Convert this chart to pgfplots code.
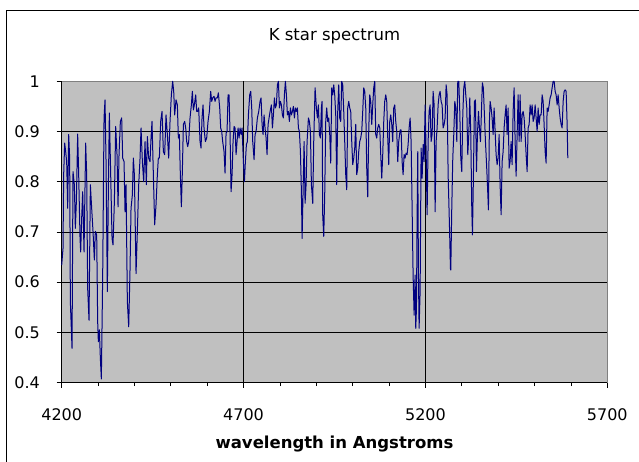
\documentclass[border=0pt]{standalone}
\usepackage{fontspec}
\setmainfont{DejaVu Sans}
\usepackage{pgfplots}
\pgfplotsset{compat=1.18}
\definecolor{plotgray}{RGB}{192,192,192}
\definecolor{bordergray}{RGB}{128,128,128}
\definecolor{navyline}{RGB}{0,0,128}
\begin{document}
\begin{tikzpicture}
\useasboundingbox (0,0) rectangle (639bp,462bp);
\draw[black, line width=1bp] (6bp,-5bp) -- (6bp,451.8bp) -- (700bp,451.8bp);
\begin{axis}[
  at={(61.7bp,79.5bp)}, anchor=south west,
  scale only axis, width=545.6bp, height=301.2bp,
  xmin=4200, xmax=5700, ymin=0.4, ymax=1,
  axis x line*=bottom, axis y line*=left,
  axis line style={black, line width=0.8bp},
  axis background/.style={fill=plotgray, draw=bordergray, line width=0.8bp},
  xtick={4200,4700,5200,5700}, minor x tick num=4,
  ytick={0.4,0.5,0.6,0.7,0.8,0.9,1},
  tick align=outside, major tick length=5bp, minor tick length=3.5bp,
  tick style={black, line width=0.8bp},
  scaled x ticks=false, scaled y ticks=false,
  /pgf/number format/assume math mode=true,
  xticklabel style={/pgf/number format/1000 sep={}, font=\fontsize{16bp}{19bp}\selectfont, anchor=base, inner sep=0pt, yshift=-33bp},
  yticklabel style={/pgf/number format/fixed, /pgf/number format/precision=1, font=\fontsize{16bp}{19bp}\selectfont, anchor=east, inner sep=0pt, xshift=-16.7bp},
  title={K star spectrum},
  title style={at={(axis description cs:0.5,1.1145)}, anchor=base, yshift=0pt, inner sep=0pt, font=\fontsize{16.5bp}{20bp}\selectfont},
  xlabel={wavelength in Angstroms},
  xlabel style={at={(axis description cs:0.5,-0.2175)}, anchor=base, inner sep=0pt, font=\fontsize{16.5bp}{20bp}\selectfont\bfseries},
  clip=false,
]
\draw[black, line width=0.8bp] (axis cs:4200,0.5) -- (axis cs:5700,0.5);
\draw[black, line width=0.8bp] (axis cs:4200,0.6) -- (axis cs:5700,0.6);
\draw[black, line width=0.8bp] (axis cs:4200,0.7) -- (axis cs:5700,0.7);
\draw[black, line width=0.8bp] (axis cs:4200,0.8) -- (axis cs:5700,0.8);
\draw[black, line width=0.8bp] (axis cs:4200,0.9) -- (axis cs:5700,0.9);
\draw[black, line width=0.8bp] (axis cs:4700,0.4) -- (axis cs:4700,1);
\draw[black, line width=0.8bp] (axis cs:5200,0.4) -- (axis cs:5200,1);
\addplot[navyline, line width=1bp, line join=round, mark=none] coordinates {
(4200,0.634)(4203.6,0.667)(4205.4,0.814)(4208.2,0.877)(4210.9,0.860)(4213.7,0.840)(4216.4,0.747)(4219.2,0.894)(4221.9,0.847)(4223.8,0.561)(4228.4,0.468)(4231.1,0.820)(4234.8,0.794)(4237.5,0.707)(4240.3,0.760)(4243.9,0.895)(4246.7,0.814)(4250.4,0.687)(4252.2,0.660)(4254.9,0.727)(4257.7,0.780)(4261.4,0.660)(4265.9,0.877)(4268.7,0.814)(4271.4,0.587)(4275.1,0.524)(4278.8,0.794)(4282.4,0.747)(4286.1,0.701)(4289.8,0.644)(4292.5,0.701)(4296.2,0.694)(4298.9,0.521)(4300.8,0.481)(4303.5,0.505)(4306.3,0.448)(4309.0,0.407)(4312.7,0.614)(4316.4,0.927)(4319.1,0.963)(4321.9,0.840)(4325.5,0.581)(4328.3,0.787)(4331.0,0.937)(4334.7,0.814)(4338.4,0.687)(4341.1,0.674)(4344.8,0.760)(4348.4,0.910)(4352.1,0.854)(4354.9,0.750)(4357.6,0.854)(4361.3,0.920)(4364.9,0.927)(4367.7,0.847)(4371.4,0.840)(4374.1,0.740)(4376.9,0.794)(4380.5,0.561)(4384.2,0.511)(4387.9,0.627)(4390.6,0.747)(4394.3,0.774)(4397.0,0.847)(4399.8,0.814)(4404.4,0.617)(4408.0,0.701)(4411.7,0.794)(4415.4,0.847)(4418.1,0.907)(4421.8,0.840)(4425.4,0.800)
(4429.1,0.880)(4432.7,0.794)(4435.5,0.890)(4439.1,0.847)(4442.8,0.840)(4445.6,0.887)(4448.3,0.920)(4452.0,0.814)(4455.6,0.714)(4459.3,0.754)(4463.0,0.814)(4465.7,0.847)(4468.5,0.847)(4472.1,0.920)(4475.8,0.940)(4479.5,0.860)(4483.1,0.854)(4486.8,0.933)(4490.5,0.894)(4494.1,0.847)(4497.8,0.920)(4501.5,0.973)(4505.1,1.000)(4507.9,0.980)(4510.6,0.933)(4514.3,0.963)(4518.0,0.953)(4520.7,0.887)(4523.5,0.894)(4526.2,0.814)(4529.0,0.750)(4531.7,0.820)(4534.5,0.914)(4538.1,0.920)(4540.9,0.907)(4543.6,0.880)(4546.4,0.870)(4549.1,0.880)(4552.8,0.927)(4556.5,0.953)(4559.2,0.980)(4562.0,0.943)(4564.7,0.953)(4568.4,0.973)(4571.1,0.940)(4573.9,0.940)(4576.6,0.947)(4580.3,0.880)(4583.1,0.867)(4585.8,0.927)(4588.6,0.953)(4591.3,0.907)(4595.0,0.880)(4598.6,0.887)(4602.3,0.920)(4606.0,0.940)(4609.6,0.980)(4612.4,0.960)(4615.1,0.967)(4618.8,0.970)(4621.6,0.960)(4624.3,0.967)(4628.0,0.967)(4630.7,0.977)(4634.4,0.947)(4637.1,0.907)(4639.9,0.900)(4642.6,0.880)(4646.3,0.860)(4649.1,0.817)
(4651.9,0.897)(4654.6,0.900)(4657.4,0.973)(4660.1,0.973)(4662.9,0.894)(4665.6,0.780)(4668.4,0.814)(4671.1,0.880)(4673.9,0.910)(4676.6,0.907)(4679.4,0.854)(4682.1,0.880)(4684.9,0.907)(4687.6,0.887)(4690.4,0.907)(4693.1,0.894)(4695.9,0.907)(4699.5,0.840)(4702.3,0.800)(4705.0,0.840)(4707.8,0.874)(4710.5,0.880)(4713.3,0.933)(4716.9,0.973)(4719.7,0.980)(4722.4,0.947)(4725.2,0.880)(4728.9,0.844)(4731.6,0.894)(4734.4,0.900)(4738.0,0.927)(4741.7,0.940)(4745.4,0.960)(4748.1,0.967)(4750.9,0.914)(4753.6,0.894)(4756.4,0.933)(4759.1,0.907)(4761.9,0.887)(4764.6,0.854)(4767.4,0.914)(4770.1,0.927)(4772.9,0.940)(4776.5,0.953)(4779.3,0.907)(4782.0,0.933)(4784.8,0.967)(4787.5,0.947)(4790.3,0.953)(4793.0,0.993)(4795.8,1.000)(4798.5,0.947)(4801.3,0.960)(4804.0,0.953)(4806.8,0.933)(4809.5,0.927)(4812.3,0.973)(4815.0,1.000)(4817.8,0.973)(4820.5,0.933)(4823.3,0.940)(4826.0,0.920)(4828.8,0.947)(4831.5,0.933)(4834.3,0.940)(4837.0,0.950)(4839.8,0.927)(4842.5,0.947)(4845.3,0.940)(4848.0,0.947)(4850.8,0.907)(4853.5,0.900)(4856.3,0.860)(4859.0,0.780)(4860.9,0.687)(4863.6,0.780)(4866.4,0.880)(4869.1,0.757)(4871.9,0.794)(4874.6,0.880)(4878.3,0.927)(4881.0,0.920)(4883.8,0.900)(4886.5,0.794)(4890.2,0.757)(4892.9,0.880)(4896.6,0.987)
(4900.2,0.947)(4903.0,0.927)(4905.7,0.953)(4908.5,0.894)(4911.2,0.887)(4914.0,0.947)(4915.8,0.960)(4917.6,0.734)(4920.4,0.691)(4923.1,0.774)(4925.9,0.920)(4928.6,0.947)(4931.4,0.920)(4934.1,0.927)(4936.9,0.894)(4939.6,0.837)(4942.4,0.987)(4945.1,0.973)(4947.9,0.993)(4950.6,0.973)(4953.4,0.933)(4956.1,0.794)(4958.9,0.940)(4961.6,0.993)(4964.4,0.927)(4967.1,0.920)(4969.9,1.000)(4972.6,0.993)(4975.4,0.940)(4978.1,0.880)(4980.9,0.814)(4983.6,0.784)(4986.4,0.947)(4989.1,0.960)(4991.9,0.947)(4994.6,0.940)(4997.4,0.880)(5000.1,0.834)(5002.9,0.847)(5005.6,0.867)(5008.4,0.914)(5011.1,0.814)(5013.9,0.827)(5016.6,0.860)(5019.4,0.880)(5022.1,0.887)(5024.9,0.900)(5027.6,0.940)(5030.4,0.987)(5033.1,0.980)(5035.9,0.947)(5038.6,0.827)(5041.4,0.770)(5044.1,0.900)(5046.9,0.973)(5049.6,0.960)(5052.4,0.914)(5055.1,0.953)(5057.9,0.987)(5060.6,1.000)(5063.4,0.894)(5066.1,0.887)(5068.9,0.907)(5071.6,0.914)(5074.4,0.907)(5077.1,0.854)(5079.9,0.807)(5082.6,0.854)(5085.4,0.920)(5088.1,0.960)(5090.9,0.973)(5093.6,0.960)(5096.4,0.887)(5099.1,0.834)(5101.9,0.920)(5104.6,0.933)(5107.4,0.914)(5110.1,0.880)(5112.9,0.947)(5115.6,0.953)(5118.4,0.920)(5121.1,0.900)(5123.9,0.840)(5126.6,0.880)
(5130.4,0.903)(5133.1,0.903)(5135.9,0.840)(5138.6,0.814)(5141.4,0.854)(5144.1,0.847)(5146.9,0.857)(5149.6,0.854)(5152.4,0.874)(5155.1,0.907)(5157.9,0.927)(5160.6,0.880)(5163.4,0.747)(5166.1,0.614)(5168.9,0.534)(5171.6,0.614)(5173.4,0.508)(5175.3,0.547)(5177.1,0.727)(5178.9,0.860)(5180.8,0.614)(5182.6,0.508)(5185.4,0.581)(5188.1,0.867)(5190.9,0.807)(5193.6,0.874)(5196.4,0.840)(5199.1,0.953)(5201.9,0.860)(5204.6,0.734)(5207.4,0.880)(5210.1,0.940)(5212.9,0.953)(5215.6,0.880)(5218.4,0.894)(5221.1,0.980)(5223.9,0.953)(5226.6,0.740)(5229.4,0.880)(5232.1,0.907)(5234.9,0.953)(5237.6,0.973)(5240.4,0.980)(5243.1,0.960)(5245.9,0.953)(5248.6,0.907)(5251.4,0.914)(5254.1,0.927)(5256.9,0.993)(5259.6,0.973)(5262.4,0.814)(5266.0,0.714)(5268.8,0.627)(5269.7,0.624)(5272.4,0.747)(5275.2,0.847)(5277.9,0.894)(5280.7,0.960)(5283.4,0.947)(5286.2,0.880)(5288.9,1.000)(5291.7,1.000)(5294.4,0.940)(5297.2,0.847)(5299.9,0.820)(5302.7,0.933)(5305.4,0.987)(5308.2,1.000)(5310.9,0.973)(5313.7,0.947)(5316.4,0.854)(5319.2,0.894)(5321.9,0.967)(5324.7,0.894)(5327.4,0.747)(5329.3,0.694)(5332.0,0.814)(5334.8,0.960)(5337.5,0.963)(5340.3,0.820)(5343.0,0.894)(5345.8,0.940)(5348.5,0.907)(5351.3,0.880)(5354.0,0.940)(5356.5,0.997)(5359.2,0.987)
(5362.2,0.933)(5365.0,0.880)(5367.7,0.840)(5370.5,0.794)(5373.2,0.744)(5376.0,0.920)(5377.8,0.960)(5380.6,0.947)(5383.3,0.927)(5386.1,0.894)(5388.8,0.947)(5391.6,0.900)(5394.3,0.854)(5397.1,0.834)(5399.8,0.847)(5402.6,0.894)(5405.3,0.794)(5408.1,0.734)(5410.8,0.840)(5413.6,0.860)(5416.3,0.907)(5419.1,0.933)(5421.8,0.953)(5424.6,0.894)(5427.3,0.947)(5430.1,0.827)(5432.8,0.840)(5435.6,0.880)(5438.3,0.834)(5441.1,0.940)(5443.8,0.987)(5446.6,0.880)(5449.3,0.811)(5452.1,0.894)(5454.8,0.973)(5457.6,0.880)(5460.3,0.973)(5463.1,0.880)(5465.8,0.933)(5468.6,0.940)(5471.3,0.927)(5474.1,0.894)(5476.8,0.854)(5479.6,0.820)(5482.3,0.907)(5485.1,0.914)(5487.8,0.953)(5490.6,0.933)(5493.3,0.953)(5496.1,0.920)(5498.8,0.927)(5501.6,0.953)(5504.3,0.927)(5507.1,0.900)(5509.8,0.947)(5512.6,0.914)(5515.3,0.933)(5518.1,0.933)(5520.8,0.973)(5523.6,0.960)(5526.3,0.914)(5529.1,0.860)(5531.8,0.837)(5534.6,0.947)(5537.3,0.940)(5540.1,0.953)(5542.8,0.967)(5545.6,0.973)(5548.3,0.987)(5551.1,1.000)(5553.8,1.000)(5556.6,0.980)(5559.3,0.973)(5562.1,0.953)(5564.8,0.973)(5567.6,0.947)(5570.3,0.927)(5573.1,0.914)(5575.8,0.907)(5578.6,0.960)(5581.3,0.980)(5584.1,0.983)(5586.8,0.980)(5589.6,0.914)(5591.4,0.847)
};
\end{axis}
\end{tikzpicture}
\end{document}
